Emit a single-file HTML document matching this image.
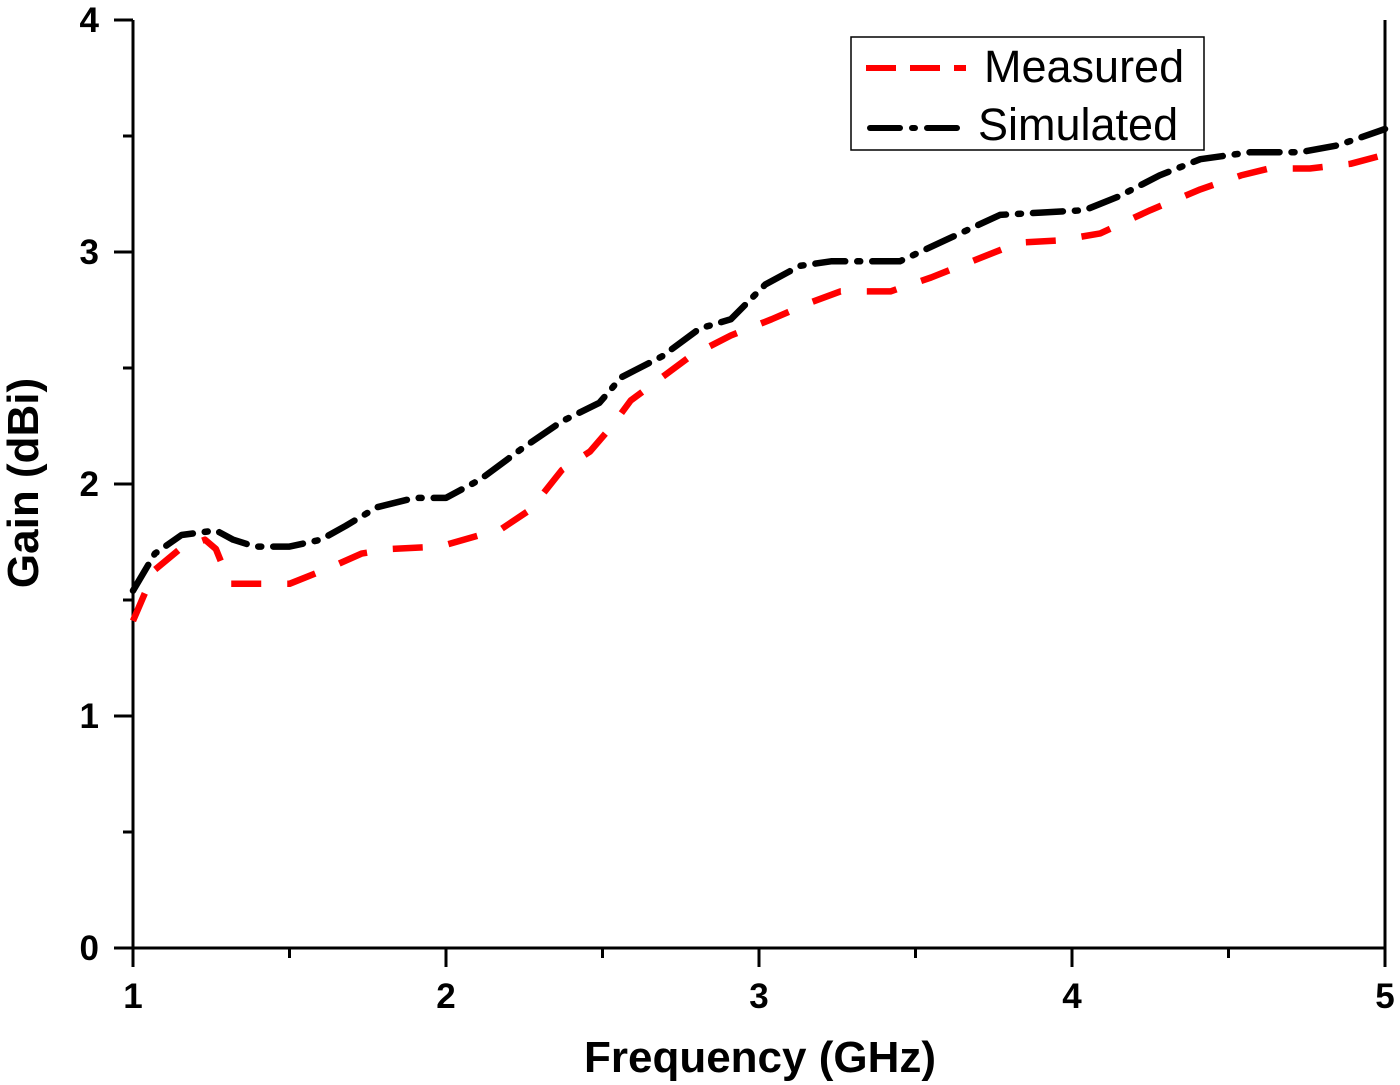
<!DOCTYPE html>
<html><head><meta charset="utf-8"><style>
html,body{margin:0;padding:0;background:#fff;}
svg{display:block;font-family:"Liberation Sans",Arial,sans-serif;}
</style></head><body>
<svg id="chart" width="1400" height="1085" viewBox="0 0 1400 1085">
<g id="axes"></g>
<g id="series"></g>
<text x="760" y="1072" font-size="44" font-weight="bold" text-anchor="middle">Frequency (GHz)</text>
<text transform="translate(38,483) rotate(-90)" font-size="44" font-weight="bold" text-anchor="middle">Gain (dBi)</text>
<g>
<rect x="851" y="37" width="353" height="113" fill="#fff" stroke="#000" stroke-width="1.5"/>
<line x1="866" y1="68" x2="966" y2="68" stroke="#f00" stroke-width="6" stroke-dasharray="30,14"/>
<text x="984" y="82" font-size="45">Measured</text>
<line x1="870" y1="128" x2="966" y2="128" stroke="#000" stroke-width="6" stroke-dasharray="30,12,3,12" stroke-linecap="round"/>
<text x="978" y="140" font-size="45">Simulated</text>
</g>
</svg>
<script>
const xTicks=[1,2,3,4,5];
const yTicks=[0,1,2,3,4];
const simFreq=[1.0,1.07,1.155,1.265,1.32,1.39,1.5,1.6,1.68,1.78,1.9,2.0,2.11,2.24,2.37,2.49,2.56,2.69,2.81,2.91,3.02,3.13,3.23,3.45,3.61,3.77,3.9,4.04,4.15,4.28,4.41,4.57,4.73,4.85,5.0];
const simGain=[1.54,1.70,1.78,1.80,1.76,1.73,1.73,1.76,1.82,1.90,1.94,1.94,2.02,2.15,2.27,2.35,2.46,2.55,2.67,2.71,2.86,2.94,2.96,2.96,3.06,3.16,3.17,3.18,3.24,3.33,3.40,3.43,3.43,3.46,3.53];
const measFreq=[1.0,1.07,1.15,1.23,1.265,1.31,1.41,1.5,1.63,1.73,1.82,1.98,2.11,2.17,2.27,2.37,2.46,2.53,2.59,2.69,2.78,2.91,3.04,3.16,3.26,3.42,3.55,3.68,3.83,3.96,4.09,4.25,4.41,4.54,4.63,4.76,4.89,5.0];
const measGain=[1.41,1.63,1.72,1.76,1.72,1.57,1.57,1.57,1.64,1.70,1.72,1.73,1.78,1.80,1.89,2.06,2.14,2.25,2.36,2.46,2.55,2.64,2.71,2.78,2.83,2.83,2.89,2.96,3.04,3.05,3.08,3.18,3.27,3.33,3.36,3.36,3.38,3.42];

const NS="http://www.w3.org/2000/svg";
const X0=133,X1=1385,Y0=948,Y1=20;
function xs(f){return X0+(f-1)/4*(X1-X0);}
function ys(g){return Y0-g/4*(Y0-Y1);}
function mk(tag,attrs,parent){const e=document.createElementNS(NS,tag);for(const k in attrs)e.setAttribute(k,attrs[k]);parent.appendChild(e);return e;}
const ax=document.getElementById('axes');
let e;
e=mk('line',{x1:X0,y1:Y1,x2:X0,y2:Y0,stroke:'#000','stroke-width':3},ax);


e=mk('line',{x1:X0,y1:Y0,x2:X1,y2:Y0,stroke:'#000','stroke-width':3},ax);


e=mk('line',{x1:X1,y1:Y1,x2:X1,y2:Y0,stroke:'#000','stroke-width':3},ax);


xTicks.forEach((t,i)=>{
  const x=xs(t);
  e=mk('line',{x1:x,y1:Y0,x2:x,y2:Y0+19,stroke:'#000','stroke-width':3},ax);
  
  
  e=mk('text',{x:x,y:1008,'font-size':35,'font-weight':'bold','text-anchor':'middle'},ax);
  e.textContent=t;
  
  
  if(i<xTicks.length-1){
    const xm=xs(t+0.5);
    e=mk('line',{x1:xm,y1:Y0,x2:xm,y2:Y0+10,stroke:'#000','stroke-width':3},ax);
    
    
  }
});
yTicks.forEach((t,i)=>{
  const y=ys(t);
  e=mk('line',{x1:X0-19,y1:y,x2:X0,y2:y,stroke:'#000','stroke-width':3},ax);
  
  
  e=mk('text',{x:99,y:y+12,'font-size':35,'font-weight':'bold','text-anchor':'end'},ax);
  e.textContent=t;
  
  
  if(i<yTicks.length-1){
    const ym=ys(t+0.5);
    e=mk('line',{x1:X0-10,y1:ym,x2:X0,y2:ym,stroke:'#000','stroke-width':3},ax);
    
    
  }
});
const sg=document.getElementById('series');
function pts(f,g){return f.map((v,i)=>xs(v).toFixed(1)+','+ys(g[i]).toFixed(1)).join(' ');}
e=mk('polyline',{points:pts(simFreq,simGain),fill:'none',stroke:'#000','stroke-width':6.5,'stroke-dasharray':'30,12,3,12','stroke-linecap':'round','stroke-linejoin':'round'},sg);


e=mk('polyline',{points:pts(measFreq,measGain),fill:'none',stroke:'#f00','stroke-width':6.5,'stroke-dasharray':'30,26','stroke-linejoin':'round'},sg);


</script>
</body></html>
